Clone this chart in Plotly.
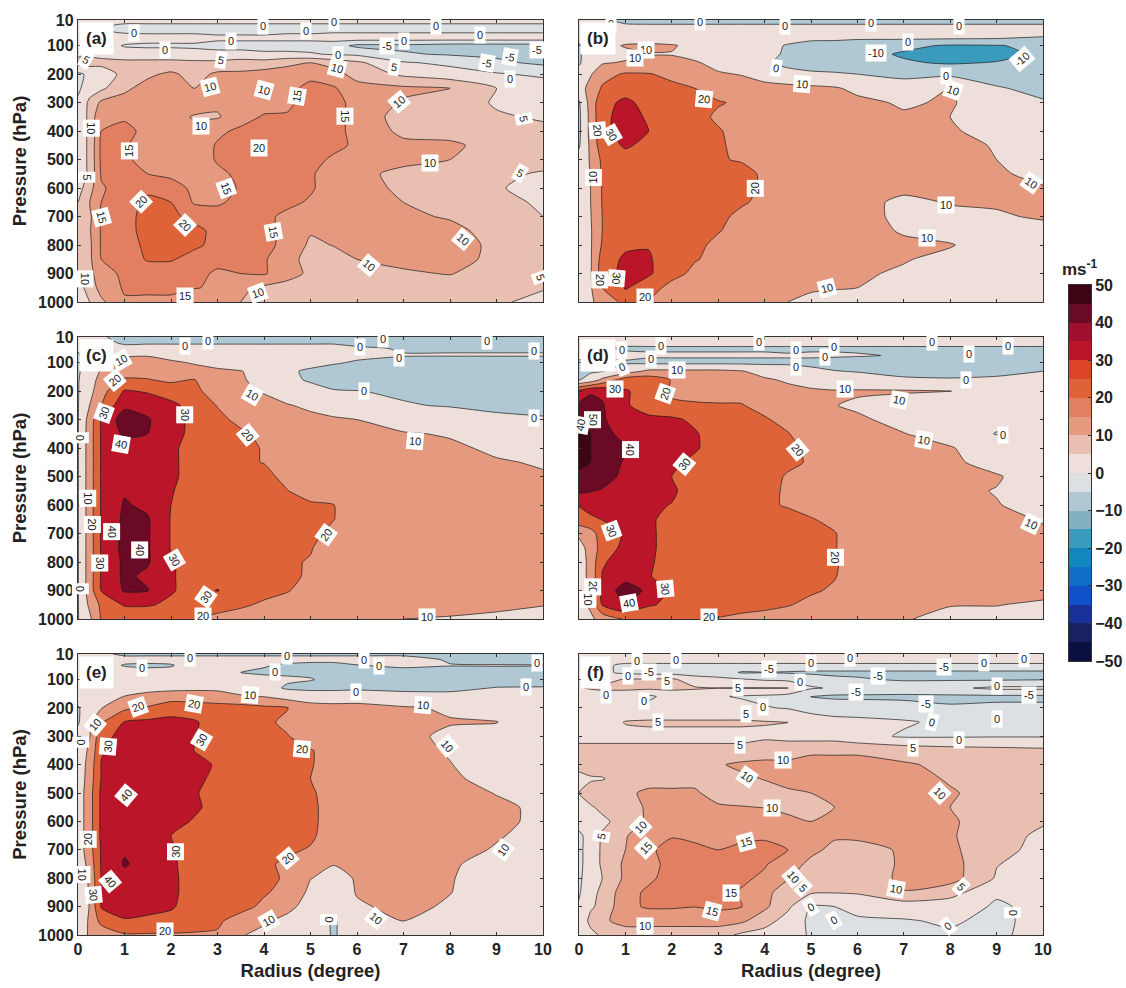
import plotly.graph_objects as go

radius = [0, .25, .5, 1, 1.5, 2, 2.5, 3, 3.5, 4, 4.5, 5, 5.5, 6, 7, 8, 9, 10]
pressure = [10, 30, 50, 75, 100, 130, 160, 200, 250, 300, 350, 400, 450, 500, 550, 600, 650, 700, 750, 800, 850, 900, 950, 1000]

band_lows = list(range(-50, 50, 5))
band_colors = ["#0b1040", "#182262", "#17309a", "#1050c8", "#0f6ec8", "#1286bf", "#3a9bbd", "#83b1c0", "#b0c8d4", "#dde0e3",
               "#eedfdb", "#e9bfb2", "#e59a80", "#e27f60", "#df6339", "#dc4527", "#bb152a", "#9e0f30", "#6b0a24", "#3f0414"]
color_ticks = list(range(-50, 51, 10))

values_a = [
[2,2,2,2,2,2,2,2,2,2,2,2,2,2,2,2,2,2],
[1,1,1,-1,-1,-1,-1,-1,-1,-1,-1,-1,-1,-1,-1,-1,-1,-1],
[2,2,1,-1,-1,-1,-1,-1,-1,-1,-0.5,-0.5,-0.5,-0.5,-0.5,-0.5,-0.5,-0.5],
[3,3,3,3,2,2,2,1,1,1,1,1,2,2,2,2,2,2],
[3,3,3,-0.5,-1,-1,-1,-2,-2,-2,-2,-2,-3,-6,-6,-7,-7,-7],
[4,4,4,3,3,3,2,2,2,1,1,0.5,-0.5,-1,-4.5,-5.5,-6,-7],
[7,7,6,6,6,6,6,6,7,7,9,10,8,6,0.5,-1,-4,-6],
[-1,1,3,6,9,11,8,11,11,12,12,14,12,8,4,2,0.5,-1],
[-1,3,4,9,12,12,10,12,12,13,14,16,15.5,12,11,10,5,3],
[1,6,11,12,13,13,13,11,10.5,13,14,17,17,13,9.5,7.5,4.5,3],
[2,6,15,14.5,13,12,9.5,9.5,13,15.5,15.5,18,17,13,8,7,5.5,4.5],
[2,6,15,16,14,13,12,14,16,17,18,18,17,13,9,8,7,6],
[2,6,16,15.5,13,12.5,12,15.5,19.5,19,18,18,16.5,14,11,11,8,7],
[2,6,16,16,13,12,12,15.5,17,17,18,17,14,13,11,10,8,7],
[2,6,15.5,16,15,14,13,14,16,17,16.5,15.5,13,11,9,8,6,4.5],
[3,8,14.5,17,19,17,14,13,15.5,16.5,16,15.5,13,12,9,8,5.5,3],
[5,10,15,18,21,20,14.5,14.5,16,16,16,14.5,13,12,10,8.5,6,4.5],
[6,9,16,18,22,21.5,18,16.5,16.5,16,14,14,13,12,11,9.5,7,5],
[6,9.5,15.5,18,22,23,22,18,17,16,14,10.5,11.5,12,12,11.5,8,6],
[6,9,15.5,18,21,23,21,18.5,17,16,14,9,10.2,11,12,12,9,7],
[6,9,15,17,20.5,20.5,18,16,16,15.5,12,8,8,10,11,11.5,9,7],
[5,9,12,16.5,17,17,16,14.5,15,15.5,12,9,8,8,9.5,10.2,8,6],
[3,7,12,15.5,16,16,15.2,14.5,11,9,8,8,8,8,8,8,7,5.5],
[1,5,9,14.5,14,14,12,11,10,9,8,8,8,8,7.5,7,6,3],
]
values_b = [
[1,1,1,-2,-3,-3,-3,-3,-3,-3,-3,-3,-3,-3,-3,-3,-3,-3],
[2,2,2,1,1,1,1,1,1,1,1,1,1,1,1,1,1,1],
[3,3,3,3,3,3,3,3,3,3,3,3,3,3,3,3,3,3],
[2,3,3,5,5,4,3,3,3,3,2,2,2,1,1,0.5,0,-1],
[-1,4,6,11,12,11,7,5,4,2,-0.5,-4,-5,-6,-8,-11,-10.5,-8],
[-1,4,7,7,9.5,9.5,7,6,4,2,-1,-4,-6,-7,-11,-14,-13,-8],
[-1,5,9,11,13,13,11,7,5,1,-2,-4,-5,-6,-9,-11,-9.5,-7],
[3,9,17,21,20.5,18,15,11,9.5,5,2.5,1.5,1,0,-2,-2,-5,-6],
[5,14,21,26,24,22,20,17,15,14,13,12,11,8,4,10.5,1,-3],
[-1,14,27,32,27,24,21,20.5,19,16,15,14,13,12,9,11,4,1],
[-2,13,28,33,29,25,22,19,17,16,15,15,14,13,11,10,4,2],
[-2,13,28,33,30,26,23,20.5,18,17,16,15,14,13,12,11,7,3],
[-1,12,26,31,28,26,24,20.5,19,18,17,16,15,14,13,12,9.5,5],
[3,11,22,27,26,25,24,20.5,19.5,18.5,16,15,15,14,13,12,10,6],
[4,10.5,21,25,25,25,24,23,22,19,17,16,15,13,12,12,11,8],
[5,10,20.5,25,26,25,24,23,22,19,17,15,13,12,12,12,11.5,10.5],
[5,10,20.5,25,26,25,24,23,21,18,16,15,14,13,8,10.5,11,12],
[5,9.5,20,24,25,24,23,22,18,16,14,13,12,13,8,8,9,11],
[5,9,20,24,26,24,22,20.5,17,15,14,13,13,12,9.5,7,6,7],
[5,9,21,28,29.5,25,22,18,16,15,14,13,13,12,11,10.5,6,5],
[5,9,24,32,31,25,20.5,18,16,15,14,13,12,11,10.5,8,5,5],
[5,9,25,33,31.5,23,18,17,15,14,13,12,11,11,9,6,5,5],
[5,9,20,31,24,17,16,15,14,13,12,11,10.5,10,7,5,5,5],
[4,8,15,22,19.5,16,15,14,12,11,10,8,7,6,5,5,5,5],
]
values_c = [
[1,1,1,-3,-3,-3,-3,-3,-3,-3,-3,-3,-3,-3,-3,-3,-3,-3],
[2,2,2,-1,-1,-1,-1,-1,-1,-1,-1,-1,-1,-2,-3,-3,-3,-3],
[1,3,4,2,3,3,3,3,3,3,3,3,3,1,-0.5,-0.5,-0.5,-0.5],
[-1,4,6,9,9.5,8,7,6,5,5,4,3,2,1,0.3,0.3,0.3,0.3],
[-1,3,7,13,14,11,9.5,8,7,6,4,2,0.5,-0.5,-2,-3,-3,-3],
[-1,4,11,16,16,13,12,11,10.2,8,1,-1,-2,-3,-4,-4,-4,-4],
[-0.5,5,14,21,20.5,18,20.5,13,11,7,2,-1,-3,-4,-4,-4,-4,-4],
[-0.5,7,16,31,29,26,23,14,12,9,6,3,0.5,0.2,-1,-3,-4,-4],
[-0.5,10,20,38,36,32,27,19.5,16,14,10.5,8.5,6,4,0.5,-0.5,-2,-3],
[-0.5,14,31,45,41,33,28,23,17,14,13,12,11,10,7,4,2,1],
[-0.5,15,31,42,40,34,27,24,22,17,15,14,13,12,10.5,9.5,5.5,3],
[-0.5,15,31,35,33,31.5,27,24,22,19.5,15,14,14,13,12,11,9,6],
[-0.5,15,31,34,33,31,28,25,21,19.8,16,15,14,13,12,11,10.5,9.5],
[-0.5,15,31,35,34,31,28,25,23,22,18,16,15,14,13,12,11,10.5],
[-0.5,15,31,39,37,30.5,27,25,23,23,20.2,17,15,14,13,12,11,10.5],
[-0.5,15,31,41,38,30,27,25,24,24,22,21,20.2,15,13,12,11,11],
[-0.5,15,31,42,41,29.5,26,25,24,24,23,22,20.2,15,13,12,12,12],
[-0.5,15,31,43,41,29.5,26,25,24,24,23,22,18,15,13,12,12,12],
[-0.5,15,31,43,41,29.5,26,25,24,23,22,20.5,16,14,13,12,12,12],
[-0.5,15,31,42,41,31,26,25,24,23,21,19.5,15,14,13,12,12,12],
[-0.5,15,31,42,38,31,26,25,24,23,21.5,19,15,14,13,12,12,12],
[-0.5,15,30.5,41,40.5,31,26,30.5,24,22,20.5,17,15,14,13,12,12,11],
[-0.5,12,22,31,31,28,24,21.5,21,19,17,15,14,13,12,12,11,10.2],
[-0.5,8,21,22,22,21,20,19,17,15,14,13,12,11,10,9.5,9,8],
]
values_d = [
[2,2,2,2,2,2,2,2,2,2,2,2,2,2,2,2,2,2],
[2,2,2,2,2,2,2,2,2,2,2,2,2,2,2,2,2,2],
[1,1,1,-1,-1,-1,-1,-1,-1,-1,-1,-1,-1,-1,-1,-1,-1,-1],
[3,3,3,2,1,1,1,1,1,1,0.5,1,1,0.5,-0.5,-1,-2,-2],
[-2,-2,-2,-1,-2,-2,-2,-2,-2,-2,-1,-2,-3,-3,-4,-4,-4,-3],
[-2,-1,-0.5,5,12,12,12,12,10.5,7,3,2,0.3,-0.5,-2,-2,-1.5,0],
[-0.5,3,12,25,26,19.5,15,14,13,11,9,7,5,4,1,0.5,1,2],
[32,39,38,31,26,19,17,15,17,13,12,11,10.5,10.8,10.8,10.2,3,3],
[42,43,41,30.5,28,21,21,21,20.5,17,13,11,10.2,9,6,4,3,3],
[50,47,42,30.2,31,32,28,24,23,21,17,13,12,11,8,5,3,3],
[52,50,43,37,34,33,31,25,24,22,20.5,15,13,12,10.2,7,-0.5,3],
[54,50,48,41,37,34,31,26,24,22,21,19,15,13,12,10.5,6,4],
[53,50,45,39,35,32,28,25,24,22,21,19.5,15,13,12,11,8,5],
[47,50,45,37,33,30,27,25,24,22,19.5,17,14,13,12,11,10.5,7],
[42,40.5,39,35,32,31,27,25,24,21,19.5,16,14,13,12,11,9.8,8],
[30.5,34,33,33,31,29.8,26,25,24,21,19.5,17,15,14,13,12,10.2,8.5],
[26,28,30.3,33,31,28,26,25,24,23,22,20.5,18,15,14,13,12,9.5],
[12,16,25,31,31.5,27,25,25,24,23,22,21,20.5,16,14,13,12,11],
[6,14,24,33,31.5,27,25,25,24,23,22,22,20.5,16,14,13,12,12],
[5,13,29,34,31,27,25,25,24,23,22,22,21,16,14,13,12,12],
[5,13,30.5,36,30.5,27,25,25,24,23,22,21,20.5,16,14,13,12,12],
[5,12,33,45,38,28,25,25,24,23,22,21,19,15,14,13,12,12],
[5,12,30.5,39,31,28,25,24,23,22,20.5,18,16,15,13,10.3,10.2,9],
[4,8,14,21,22,22,20.5,19.5,18,17,16,15,14,13,10.5,8,8,7],
]
values_e = [
[1,1,1,-1,-1,-1,-1,-1,-1,-1,-1,-1,-1,-1,-1,-1,-1,-1],
[2,2,2,2,2,2,2,2,2,2,2,2,2,2,2,-0.5,-2,-2],
[3,3,3,-0.5,-1,-0.5,3,2,1,0.5,-1,-2,-2,-0.2,1,0.2,0.3,0.2],
[3,3,3,3,2,2,3,2,0,-1,-1,-1,-2,-2,-2,-2,-2,-2],
[4,4,4,4,4,4,4,3,3,2,1,0.3,-1.5,-2,-3,-3,-3,-3],
[5,5,5,5,7,7,8,8,6,3,-1,-2,-2,-2,-2,-1.5,0.3,0.5],
[5,6,8,10.2,13,16,15,14,11,9.8,6,5,5,7,3,2,1.5,1.5],
[-1,6,9.5,18,21,25,25,24,24,22,20.5,14,13,12,11,9,5,4],
[-1,8,19,30.5,32,33,31,26,25,22,18,14,13,12,11,10.5,10.3,6],
[3,9.5,27,33,35,35,30.5,26,25,23,20.5,15,14,13,12,8.5,6.5,5],
[3,12,29,36,36,36,29.8,27,25,24,21,20.5,17,14,12,9.5,6,5],
[3,14,30.5,36,36,36,33,29,26,25,23,20.5,17,14,12,10.2,7,5],
[3,15,30.5,37,36,36,32,28,26,25,23,20,17,15,13,11,8,6],
[4,16,32,39,36,36,30.5,28,26,25,23,21,17,15,13,12,9.8,7],
[4,16,32,37,36,36,31,28,26,25,23,21,18,15,13,12,11,9],
[4,16,32,37,36,32,29.5,27,26,25,23,21,18,15,13,12,11,9],
[4,16,32,38,36,30,27,26,25,24,22,21,17,15,13,12,10.5,8],
[4,16,31,39,36,31,27,26,25,23,21,19.5,16,14,13,12,9.5,7],
[2,14,31,41,36,31.5,26,25,24,21,19,12,10.2,12,13,11,7,6],
[1,12,30.5,37,35,32,26,25,24,22,19,10.2,8,10.5,13,10.5,6,6],
[0.5,11,30.5,36,34,32,26,25,24,21,17,8,5,10.5,13,10.2,6,5],
[0.5,10.5,31,35,33,31,26,24,23,18,12,7,3,9,12,9,6,5],
[0,12,23,29,28,27,24,21.5,16,11,8,6,-1,7,10.2,7,6,5],
[1,12,14,19,19,19,19,19,10.5,8,7,6,-1,6,7,6,5,5],
]
values_f = [
[2,2,2,2,2,2,2,2,2,2,2,2,2,2,2,2,2,2],
[2,2,2,2,2,2,2,2,2,2,2,2,2,2,2,2,2,2],
[3,3,1,-1,-1,-1,-1,-1,-1,-1,-1,-1,-1,-1,-1,-1,-1,-1],
[3,3,1,-1,-2,-2,-2,-2,-5.5,-5.2,-5.5,-6,-6,-6,-6,-6,-6,-6],
[1,2,3,5.5,5.5,6,2,1,0.5,-0.5,-1,-2,-4,-4.5,-5.5,-5.5,-5.5,-5.2],
[4.5,5.5,6,6,6,6,5.5,5,5.2,5.2,5.1,0.5,-0.5,-1,-2,-1,1,1],
[2,2,2,2,-1,2,2,0.5,-0.5,-1,-2,-5.2,-6,-6,-6,-6,-6,-6],
[2,2,2,2,2,2,2,2,2,0.3,-0.3,-1,-1.5,-2,-3,-4.5,-4,-4],
[3,3,3,5.2,5.5,5.5,5.5,5.5,5.5,5.3,5.1,1.5,1,1,0.5,-1,-1.5,-1],
[4,4,4,4,4,4,4,4,4,4,3.5,3,3,1.5,-0.5,-0.5,-0.3,-0.3],
[6,6,6,6,6,6,6,6,6,8,8,9,9,9,8,7,6.5,6],
[6,7,7,7,8,8,8,9.5,11,11,11,12,12,12,10.5,9,8,7],
[4,4.5,4.7,7,8,8,9,9,9,10.2,12,13,13,13,12,9.5,8,7],
[5,7,8,9,11,11,10.5,8.5,8,8,9,10,13,14,13,10.5,8,7],
[3,4.5,6,8.5,10.5,11,11,10.5,10.2,9.9,9,9,9.9,13,13,10,8,7],
[2,3,4,7,11,12,12,12,12,12,11,10,11,13,13,10.5,8,5.5],
[-1,2,5.5,9.5,14,14.8,14.5,14,14,14.5,13,11.5,10.5,10.8,11,10.5,7,4],
[-1.5,3,5.5,10,14.5,16,15.5,15,16,16,15,11,9,8.5,10.5,11,6.5,3.5],
[-1.5,3,5.5,11,14,16,16,16,16,15.5,12,9,8,8,10.5,12,5.2,3],
[-1,3,5,11,14,17,17,16,16,14,10.5,6,6,7,11,12,4.5,2],
[-0.5,3.5,6,13,16,16.5,16,16,14.5,12,6.5,5.5,5.2,5.5,9.8,7,0.5,1.5],
[0.5,4.5,6,14,15.5,15.5,15.1,16,15.2,11,6,-0.5,0,1,2,2,-0.5,1],
[2,6,9,12,12,12,12,12,11,7,3,-1,-1,-0.5,-0.3,0.5,-1,1.5],
[1,4,5.5,7,7,7,7,7,4,3,2,-0.5,-1,-1,-0.5,-0.5,-0.5,1],
]

# contour label text: radius, pressure, text, rotation
labels_a = [(1.2,57,"0",0),(3.97,30,"0",0),(4.9,49,"0",0),(5.5,16,"0",0),(7.7,30,"0",0),(8.65,63,"0",0),(3.3,85,"0",0),(1.88,115,"0",0),
(5.6,133,"0",0),(7,83,"0",0),(9.3,218,"0",0),(6.64,100,"-5",0),(8.8,160,"-5",10),(9.3,139,"-5",10),(9.87,115,"-5",0),(.18,150,"5",30),
(3.08,150,"5",10),(6.8,176,"5",10),(5.56,180,"10",15),(2.83,244,"10",-15),(4,256,"10",15),(6.9,297,"10",-40),(9.58,359,"5",80),(.28,390,"10",90),
(4.7,279,"15",-80),(5.75,349,"15",90),(2.65,382,"10",0),(1.1,469,"15",-90),(3.9,460,"20",0),(7.57,511,"10",0),(.2,563,"5",90),(9.5,548,"5",30),
(3.18,601,"15",70),(1.35,648,"20",-45),(.5,703,"15",75),(2.3,730,"20",45),(4.2,755,"15",80),(8.27,779,"10",40),(6.25,870,"10",40),(.14,917,"10",90),
(9.95,911,"5",70),(2.3,978,"15",0),(3.87,970,"10",-20)]
labels_b = [(.7,24,"0",0),(2.6,16,"0",0),(4.45,30,"0",0),(6.3,22,"0",0),(8.2,30,"0",0),(1.45,115,"10",0),(1.2,142,"10",0),(7.1,86,"0",0),
(6.4,127,"-10",0),(9.55,147,"-10",-40),(4.25,180,"0",10),(7.9,207,"0",0),(4.8,235,"10",5),(8.05,256,"10",20),(2.7,288,"20",5),(.7,414,"30",60),
(.4,396,"20",85),(.3,563,"10",-90),(3.8,600,"20",-90),(9.75,583,"10",35),(7.9,660,"10",0),(7.5,776,"10",0),(5.35,952,"10",-15),(.8,917,"30",95),
(.45,922,"20",90),(1.42,983,"20",0)]
labels_c = [(2.3,42,"0",0),(2.8,25,"0",0),(6.07,45,"0",0),(6.55,18,"0",0),(8.8,25,"0",0),(9.8,59,"0",0),(6.9,83,"0",0),(.93,90,"10",-30),
(.8,162,"20",-40),(6.15,200,"0",0),(3.75,215,"10",30),(.56,277,"30",-70),(2.3,283,"30",90),(9.8,293,"0",0),(3.65,353,"20",50),(.06,363,"0",90),
(.92,387,"40",10),(7.25,375,"10",5),(.22,577,"10",90),(.3,668,"20",90),(.72,695,"40",90),(1.33,757,"40",90),(.47,803,"30",90),(2.07,794,"30",60),
(5.33,704,"20",-55),(.06,893,"0",90),(2.75,923,"30",-55),(2.68,990,"20",0),(7.5,993,"10",0)]
labels_d = [(.92,57,"0",0),(1.76,42,"0",0),(3.88,28,"0",0),(4.67,57,"0",0),(5.5,45,"0",0),(5.3,80,"0",0),(7.6,28,"0",0),(8.4,71,"0",0),
(9.24,42,"0",0),(1.56,88,"0",0),(.93,115,"0",-20),(4.67,115,"0",0),(2.12,127,"10",0),(8.35,162,"0",0),(.78,192,"30",0),(5.73,192,"10",0),
(1.85,209,"20",-70),(6.9,232,"10",10),(.3,300,"50",90),(.04,320,"40",-80),(7.44,370,"10",10),(9.14,355,"0",0),(1.12,405,"40",90),(4.72,405,"20",50),
(2.27,455,"30",-50),(9.75,668,"10",25),(.7,692,"30",70),(5.53,782,"20",90),(.3,887,"20",90),(1.87,893,"30",85),(.2,932,"10",90),(1.08,944,"40",-10),
(2.8,993,"20",0)]
labels_e = [(2.4,25,"0",0),(4.5,16,"0",0),(6.14,30,"0",0),(6.47,54,"0",0),(9.88,42,"0",0),(1.37,59,"0",0),(4.23,74,"0",0),(5.97,145,"0",0),
(9.64,125,"0",0),(3.7,156,"10",5),(7.42,189,"10",5),(1.28,195,"20",-20),(2.5,187,"20",10),(.36,259,"10",-50),(.65,335,"30",-85),(.06,320,"0",90),
(2.66,314,"30",-60),(4.82,343,"20",5),(7.94,335,"10",50),(1.04,507,"40",-50),(.22,662,"20",-90),(2.1,708,"30",-90),(9.14,700,"10",-55),(4.52,730,"20",-40),
(.08,786,"10",90),(.68,811,"40",50),(.33,860,"30",85),(5.4,946,"0",90),(4.1,952,"10",-30),(6.4,940,"10",40),(1.87,985,"20",0)]
labels_f = [(1.26,33,"0",0),(2.09,30,"0",0),(5,43,"0",0),(5.84,24,"0",0),(8.72,43,"0",0),(9.58,28,"0",0),(1.05,86,"0",0),(1.5,72,"-5",0),
(1.9,104,"5",0),(4.1,63,"-5",0),(6.45,86,"-5",0),(7.86,57,"-5",0),(4.77,107,"0",0),(3.43,130,"5",0),(5.97,145,"-5",0),(9,121,"0",0),(9.7,153,"-5",0),
(.58,153,"0",0),(1.4,177,"0",0),(7.47,186,"-5",0),(3.97,195,"0",0),(3.6,223,"5",0),(9,240,"0",0),(1.7,250,"5",0),(7.6,250,"0",15),(8.2,312,"0",0),
(3.47,329,"5",0),(7.2,341,"5",0),(4.4,384,"10",0),(3.63,443,"10",35),(7.77,499,"10",45),(4.15,552,"10",0),(.47,653,"5",-80),(1.33,621,"10",-45),
(3.6,673,"15",-15),(1.44,694,"15",-45),(4.62,796,"10",50),(4.83,835,"5",45),(8.24,831,"5",45),(3.27,852,"15",0),(6.84,838,"10",10),(5,903,"0",-30),
(2.86,917,"15",15),(5.5,948,"0",-30),(9.34,923,"0",90),(1.42,967,"10",0),(7.95,969,"0",-40)]

panels = [("(a)", values_a, labels_a, 5), ("(b)", values_b, labels_b, 10), ("(c)", values_c, labels_c, 10),
          ("(d)", values_d, labels_d, 10), ("(e)", values_e, labels_e, 10), ("(f)", values_f, labels_f, 5)]

W, H = 1126, 988
col_px = [(78, 543), (579, 1043)]
row_px = [(20, 302), (337, 619), (654, 935)]
FONT = "Liberation Sans"
INK = "#222222"


def band_color(level):
    return band_colors[band_lows.index(level)]


def contour_scale(step):
    # plotly maps the scale over the contour levels plus half a step at each end
    levels = list(range(-50, 51, step))
    n = len(levels)
    stops = []
    for i, lev in enumerate(levels[:-1]):
        c = band_color(lev)
        stops.append([(i + .5) / n, c])
        stops.append([(i + 1.5) / n, c])
    stops.insert(0, [0, band_color(-50)])
    stops.append([1, band_color(45)])
    return stops


fig = go.Figure()
anns = []
for idx, (name, z, labels, step) in enumerate(panels):
    assert len(z) == len(pressure) and all(len(r) == len(radius) for r in z), name
    rw, cl = idx // 2, idx % 2
    suffix = "" if idx == 0 else str(idx + 1)
    xname, yname = "x" + suffix, "y" + suffix
    fig.add_trace(go.Contour(
        x=radius, y=pressure, z=z, xaxis=xname, yaxis=yname, showscale=False, hoverinfo="skip",
        colorscale=contour_scale(step),
        contours=dict(start=-50, end=50, size=step, coloring="fill", showlines=True),
        line=dict(color="#1a1a1a", width=0.7, smoothing=0.6),
    ))
    x0, x1 = col_px[cl]
    y0, y1 = row_px[rw]
    xkw = dict(domain=[x0 / W, x1 / W], range=[0, 10], tick0=0, dtick=1, ticks="inside", ticklen=3, tickwidth=1,
               tickcolor="#333", showgrid=False, zeroline=False, showline=True, linecolor="#333", linewidth=1.3,
               mirror="ticks", anchor=yname, showticklabels=rw == 2, automargin=False,
               tickfont=dict(family=FONT, size=16, color=INK, weight="bold"))
    ykw = dict(domain=[1 - y1 / H, 1 - y0 / H], range=[1000, 10], tickvals=[10, 100, 200, 300, 400, 500, 600, 700, 800, 900, 1000],
               ticks="inside", ticklen=3, tickwidth=1, tickcolor="#333", showgrid=False, zeroline=False, showline=True,
               linecolor="#333", linewidth=1.3, mirror="ticks", anchor=xname, showticklabels=cl == 0, automargin=False,
               tickfont=dict(family=FONT, size=16, color=INK, weight="bold"))
    if rw == 2:
        xkw["title"] = dict(text="Radius (degree)", font=dict(family=FONT, size=18.5, color=INK, weight="bold"), standoff=6)
    if cl == 0:
        ykw["title"] = dict(text="Pressure (hPa)", font=dict(family=FONT, size=18.5, color=INK, weight="bold"), standoff=6)
    fig.update_layout(**{("xaxis" + suffix): xkw, ("yaxis" + suffix): ykw})
    for r, p, text, angle in labels:
        anns.append(dict(x=r, y=p, xref=xname, yref=yname, text=text, showarrow=False, textangle=angle,
                         bgcolor="white", borderpad=2, font=dict(family=FONT, size=11, color=INK)))
    anns.append(dict(x=0.0, y=1.0, xref=xname + " domain", yref=yname + " domain", xanchor="left", yanchor="top",
                     xshift=1, yshift=-2, text="<b>" + name + "</b>", showarrow=False, bgcolor="white", borderpad=6,
                     font=dict(family=FONT, size=17, color=INK)))

# colour scale, drawn as its own small axes
cb_stops = []
for i, c in enumerate(band_colors):
    cb_stops += [[i / 20, c], [(i + 1) / 20, c]]
fig.add_trace(go.Heatmap(
    x=[0], y=[lo + 2.5 for lo in band_lows], z=[[lo + 2.5] for lo in band_lows], xaxis="x7", yaxis="y7", zmin=-50, zmax=50,
    colorscale=cb_stops, showscale=False, hoverinfo="skip", xgap=0, ygap=0,
))
fig.update_layout(
    xaxis7=dict(domain=[1069 / W, 1091 / W], anchor="y7", showticklabels=False, ticks="", showgrid=False, zeroline=False,
                showline=True, linecolor="#333", linewidth=1, mirror=True, automargin=False),
    yaxis7=dict(domain=[1 - 661 / H, 1 - 285 / H], anchor="x7", side="right", range=[-50, 50], tickvals=color_ticks,
                ticks="inside", ticklen=3, tickcolor="#333", showgrid=False, zeroline=False, showline=True, linecolor="#333",
                linewidth=1, mirror=True, automargin=False, tickfont=dict(family=FONT, size=16, color=INK, weight="bold")),
)
anns.append(dict(x=1100 / W, y=1 - 268 / H, xref="paper", yref="paper", yanchor="middle", text="<b>ms<sup>-1</sup></b>", showarrow=False,
                 font=dict(family=FONT, size=17, color=INK)))

fig.update_layout(width=W, height=H, autosize=False, margin=dict(l=0, r=0, t=0, b=0), paper_bgcolor="white",
                  plot_bgcolor="white", showlegend=False, annotations=anns)
fig.write_html("out.html", post_script="document.body.style.margin='0';", config={"displayModeBar": False})
